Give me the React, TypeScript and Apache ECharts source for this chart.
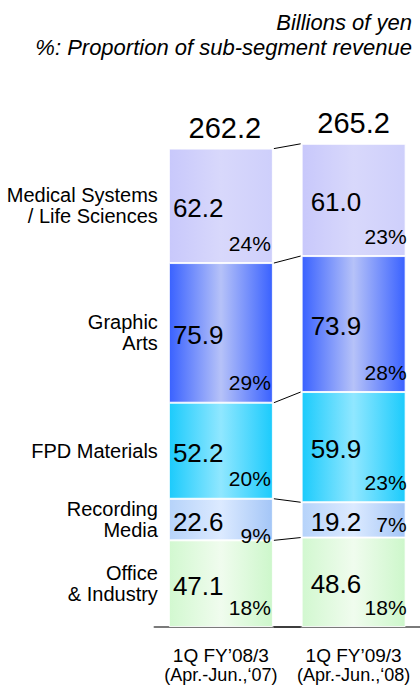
import React, { useEffect, useRef } from "react";
import * as echarts from "echarts";

const categories = ["1Q FY\u201908/3", "1Q FY\u201909/3"];
const periods = ["(Apr.-Jun.,\u201807)", "(Apr.-Jun.,\u201808)"];
const totals = [262.2, 265.2];

const segmentNames = ["Office & Industry", "Recording Media", "FPD Materials", "Graphic Arts", "Medical Systems / Life Sciences"];
const segmentLabels = ["Office\n& Industry", "Recording\nMedia", "FPD Materials", "Graphic\nArts", "Medical Systems\n/ Life Sciences"];

const officeIndustry = [47.1, 48.6];
const recordingMedia = [22.6, 19.2];
const fpdMaterials = [52.2, 59.9];
const graphicArts = [75.9, 73.9];
const medicalLife = [62.2, 61.0];

const officeShare = [18, 18];
const recordingShare = [9, 7];
const fpdShare = [20, 23];
const graphicShare = [29, 28];
const medicalShare = [24, 23];

const headerLines = ["Billions of yen", "%: Proportion of sub-segment revenue"];

const FONT = "'Liberation Sans', Arial, Helvetica, sans-serif";
const BAR_W = 104;

const segmentValues = [officeIndustry, recordingMedia, fpdMaterials, graphicArts, medicalLife];
const segmentShares = [officeShare, recordingShare, fpdShare, graphicShare, medicalShare];

const grad = (edge: string, mid: string, edge2?: string) => ({
  type: "linear",
  x: 0,
  y: 0,
  x2: 1,
  y2: 0,
  colorStops: [
    { offset: 0, color: edge },
    { offset: 0.5, color: mid },
    { offset: 1, color: edge2 || edge },
  ],
});

const segmentColors = [
  grad("#d2f8d0", "#f0fcee", "#cdf7cb"),
  grad("#b6d3fa", "#dceaff", "#a4c6f7"),
  grad("#1ccbfc", "#90e7ff", "#1ccbfc"),
  grad("#3a62ff", "#b6c2f8", "#3a62ff"),
  grad("#c8c8fb", "#d8d8fb", "#cecffb"),
];

function txt(x: number, y: number, text: string, size: number, align: string, extra: any = {}) {
  return {
    type: "text",
    x,
    y,
    style: {
      text,
      fill: "#000",
      fontSize: size,
      fontFamily: FONT,
      align,
      verticalAlign: "middle",
      textAlign: align,
      textVerticalAlign: "middle",
      ...extra,
    },
  };
}

export default function App() {
  const ref = useRef<HTMLDivElement>(null);

  useEffect(() => {
    document.body.style.margin = "0";
    if (!ref.current) return;
    const chart = echarts.init(ref.current, null, { renderer: "svg" });

    const labelData: number[][] = [];
    for (let s = 0; s < segmentValues.length; s++) {
      for (let c = 0; c < categories.length; c++) {
        let start = 0;
        for (let k = 0; k < s; k++) start += segmentValues[k][c];
        const end = start + segmentValues[s][c];
        labelData.push([c, start, end, segmentValues[s][c], segmentShares[s][c], s]);
      }
    }

    const connectorData: number[][] = [];
    for (let b = 0; b <= segmentValues.length; b++) {
      let c0 = 0;
      let c1 = 0;
      for (let k = 0; k < b; k++) {
        c0 += segmentValues[k][0];
        c1 += segmentValues[k][1];
      }
      connectorData.push([0, c0, c1, b]);
    }

    const totalData = categories.map((_, c) => {
      let sum = 0;
      for (let k = 0; k < segmentValues.length; k++) sum += segmentValues[k][c];
      return [c, sum, totals[c]];
    });

    const barSeries = segmentValues.map((vals, s) => ({
      type: "bar",
      name: segmentNames[s],
      stack: "total",
      barWidth: BAR_W,
      silent: true,
      data: vals,
      itemStyle: {
        color: segmentColors[s],
        borderColor: "rgba(255,255,255,0.85)",
        borderWidth: 1,
      },
      z: 2,
    }));

    const option: any = {
      animation: false,
      grid: { left: 154.5, width: 274, top: 75, bottom: 61, containLabel: false },
      graphic: [
        {
          type: "text",
          right: 8,
          top: 11,
          style: { text: headerLines[0], fill: "#000", fontSize: 22, fontStyle: "italic", fontFamily: FONT },
        },
        {
          type: "text",
          right: 8,
          top: 36,
          style: { text: headerLines[1], fill: "#000", fontSize: 22, fontStyle: "italic", fontFamily: FONT },
        },
      ],
      xAxis: {
        type: "category",
        data: categories,
        offset: 3,
        axisLine: { show: true, lineStyle: { color: "#7a7a7a", width: 2 } },
        axisTick: { show: false },
        axisLabel: {
          margin: 15,
          color: "#000",
          fontFamily: FONT,
          formatter: (v: string, i: number) => `{a|${v}}\n{b|${periods[i]}}`,
          rich: {
            a: { fontSize: 19, lineHeight: 20, fontFamily: FONT, color: "#000" },
            b: { fontSize: 18, lineHeight: 20, fontFamily: FONT, color: "#000" },
          },
        },
      },
      yAxis: {
        type: "value",
        min: 0,
        max: 300,
        show: false,
        splitLine: { show: false },
      },
      series: [
        ...barSeries,
        {
          type: "custom",
          silent: true,
          z: 5,
          data: connectorData,
          encode: { x: 0, y: [1, 2] },
          renderItem: (params: any, api: any) => {
            const p0 = api.coord([0, api.value(1)]);
            const p1 = api.coord([1, api.value(2)]);
            return {
              type: "line",
              shape: { x1: p0[0] + BAR_W / 2 + 1, y1: p0[1], x2: p1[0] - BAR_W / 2 - 1, y2: p1[1] },
              style: { stroke: "#000", lineWidth: 1 },
            };
          },
        },
        {
          type: "custom",
          silent: true,
          z: 6,
          data: labelData,
          encode: { x: 0, y: [1, 2] },
          renderItem: (params: any, api: any) => {
            const c = api.value(0);
            const pb = api.coord([c, api.value(1)]);
            const pt = api.coord([c, api.value(2)]);
            const value = api.value(3) as number;
            const share = api.value(4) as number;
            const s = api.value(5) as number;
            const left = pb[0] - BAR_W / 2;
            const right = pb[0] + BAR_W / 2;
            const bottom = pb[1];
            const top = pt[1];
            const center = (bottom + top) / 2;
            const h = bottom - top;
            const shareY = h < 50 ? center + (c === 0 ? 16 : 5) : bottom - 20;
            const children: any[] = [
              txt(left + (c === 0 ? 4 : 9), center + 2, value.toFixed(1), 26, "left"),
              txt(right + (c === 0 ? -2 : 1), shareY, `${share}%`, 21, "right"),
            ];
            if (c === 0) {
              children.push(txt(left - 11, center, segmentLabels[s], 20, "right", { lineHeight: 21 }));
            }
            return { type: "group", children };
          },
        },
        {
          type: "custom",
          silent: true,
          z: 6,
          data: totalData,
          encode: { x: 0, y: 1 },
          renderItem: (params: any, api: any) => {
            const c = api.value(0);
            const p = api.coord([c, api.value(1)]);
            return txt(p[0] + (c === 0 ? 4 : 0), p[1] - 21, (api.value(2) as number).toFixed(1), 29, "center");
          },
        },
      ],
    };

    chart.setOption(option);
    return () => chart.dispose();
  }, []);

  return <div ref={ref} style={{ width: 420, height: 688 }} />;
}
